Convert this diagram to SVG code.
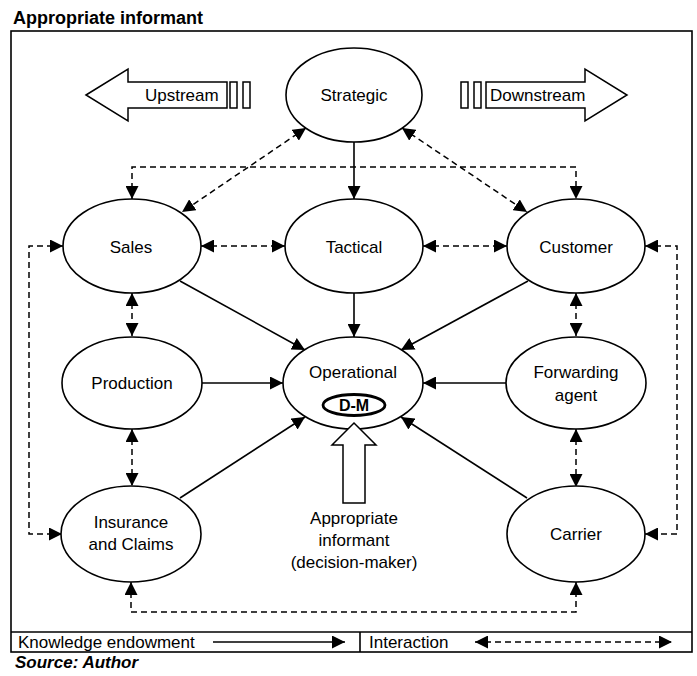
<svg xmlns="http://www.w3.org/2000/svg" width="697" height="676" viewBox="0 0 697 676">
  <style>
    text { font-family: "Liberation Sans", Arial, sans-serif; fill: #000; }
    .lbl { font-size: 17px; text-anchor: middle; }
    .node { fill: #fff; stroke: #000; stroke-width: 1.6; }
    .solid { fill: none; stroke: #000; stroke-width: 1.6; marker-end: url(#head); }
    .dash { fill: none; stroke: #000; stroke-width: 1.5; stroke-dasharray: 6 4; marker-start: url(#head); marker-end: url(#head); }
    .frame { fill: none; stroke: #000; stroke-width: 1.6; }
    .outline { fill: #fff; stroke: #000; stroke-width: 1.5; }
  </style>
  <defs>
    <marker id="head" viewBox="0 0 13 13" refX="13" refY="6.5" markerWidth="13" markerHeight="13" markerUnits="userSpaceOnUse" orient="auto-start-reverse">
      <path d="M0,0 L13,6.5 L0,13 z" fill="#000"/>
    </marker>
  </defs>

  <!-- heading and frame -->
  <text x="13" y="24" style="font-size:18px;font-weight:bold">Appropriate informant</text>
  <rect class="frame" x="11" y="31" width="681" height="621"/>

  <!-- direction arrows -->
  <g id="upstream">
    <polygon class="outline" points="86,95 128,69 128,82 227,82 227,108 128,108 128,121"/>
    <rect class="outline" x="230" y="82" width="7" height="26"/>
    <rect class="outline" x="243" y="82" width="7" height="26"/>
    <text x="145" y="101" style="font-size:17px">Upstream</text>
  </g>
  <g id="downstream">
    <polygon class="outline" points="486,82 585,82 585,69 627,95 585,121 585,108 486,108"/>
    <rect class="outline" x="461" y="82" width="7" height="26"/>
    <rect class="outline" x="474" y="82" width="7" height="26"/>
    <text x="490" y="101" style="font-size:17px">Downstream</text>
  </g>

  <!-- connectors -->
  <g id="connectors">
    <!-- knowledge endowment -->
    <line class="solid" x1="354" y1="142" x2="354" y2="199"/>
    <line class="solid" x1="354" y1="293" x2="354" y2="337"/>
    <line class="solid" x1="180" y1="281" x2="305" y2="350"/>
    <line class="solid" x1="528" y1="281" x2="401" y2="350"/>
    <line class="solid" x1="202" y1="383" x2="283" y2="383"/>
    <line class="solid" x1="506" y1="383" x2="423" y2="383"/>
    <line class="solid" x1="180" y1="498" x2="305" y2="417"/>
    <line class="solid" x1="527" y1="498" x2="401" y2="417"/>
    <!-- interaction -->
    <line class="dash" x1="201" y1="246" x2="285" y2="246"/>
    <line class="dash" x1="423" y1="246" x2="507" y2="246"/>
    <line class="dash" x1="132" y1="293" x2="132" y2="336"/>
    <line class="dash" x1="132" y1="429" x2="132" y2="486"/>
    <line class="dash" x1="576" y1="293" x2="576" y2="336"/>
    <line class="dash" x1="576" y1="429" x2="576" y2="487"/>
    <line class="dash" x1="306" y1="128" x2="182" y2="212"/>
    <line class="dash" x1="402" y1="128" x2="527" y2="212"/>
    <polyline class="dash" points="132,199 132,167 576,167 576,199"/>
    <polyline class="dash" points="63,246 29,246 29,534 62,534"/>
    <polyline class="dash" points="645,246 677,246 677,534 645,534"/>
    <polyline class="dash" points="131,582 131,612 576,612 576,582"/>
  </g>

  <!-- nodes -->
  <g id="strategic">
    <ellipse class="node" cx="354" cy="95" rx="68" ry="47"/>
    <text class="lbl" x="354" y="101">Strategic</text>
  </g>
  <g id="sales">
    <ellipse class="node" cx="132" cy="246" rx="69" ry="47"/>
    <text class="lbl" x="131" y="253">Sales</text>
  </g>
  <g id="tactical">
    <ellipse class="node" cx="354" cy="246" rx="69" ry="47"/>
    <text class="lbl" x="354" y="253">Tactical</text>
  </g>
  <g id="customer">
    <ellipse class="node" cx="576" cy="246" rx="69" ry="47"/>
    <text class="lbl" x="576" y="253">Customer</text>
  </g>
  <g id="production">
    <ellipse class="node" cx="132" cy="383" rx="70" ry="46"/>
    <text class="lbl" x="132" y="389">Production</text>
  </g>
  <g id="operational">
    <ellipse class="node" cx="353" cy="383" rx="70" ry="46"/>
    <text class="lbl" x="353" y="378">Operational</text>
    <ellipse cx="354" cy="405" rx="31" ry="10.5" fill="#fff" stroke="#000" stroke-width="2.8"/>
    <text x="354" y="411" text-anchor="middle" style="font-size:16px;font-weight:bold">D-M</text>
  </g>
  <g id="forwarding">
    <ellipse class="node" cx="576" cy="383" rx="70" ry="46"/>
    <text class="lbl" x="576" y="378">Forwarding</text>
    <text class="lbl" x="576" y="401">agent</text>
  </g>
  <g id="insurance">
    <ellipse class="node" cx="131" cy="534" rx="70" ry="48"/>
    <text class="lbl" x="131" y="528">Insurance</text>
    <text class="lbl" x="131" y="550">and Claims</text>
  </g>
  <g id="carrier">
    <ellipse class="node" cx="576" cy="534" rx="69" ry="48"/>
    <text class="lbl" x="576" y="540">Carrier</text>
  </g>

  <!-- decision-maker pointer -->
  <g id="informant">
    <polygon class="outline" points="354,423 376,445 365,445 365,503 343,503 343,445 332,445"/>
    <text class="lbl" x="354" y="524">Appropriate</text>
    <text class="lbl" x="354" y="546">informant</text>
    <text class="lbl" x="354" y="568">(decision-maker)</text>
  </g>

  <!-- legend -->
  <g id="legend">
    <line x1="11" y1="632" x2="692" y2="632" stroke="#000" stroke-width="1.6"/>
    <line x1="360" y1="632" x2="360" y2="652" stroke="#000" stroke-width="1.6"/>
    <text x="18" y="648" style="font-size:17px">Knowledge endowment</text>
    <line class="solid" x1="213" y1="642" x2="345" y2="642"/>
    <text x="369" y="648" style="font-size:17px">Interaction</text>
    <line class="dash" x1="475" y1="642" x2="672" y2="642"/>
  </g>
  <text x="15" y="668" style="font-size:17px;font-weight:bold;font-style:italic">Source: Author</text>
</svg>
